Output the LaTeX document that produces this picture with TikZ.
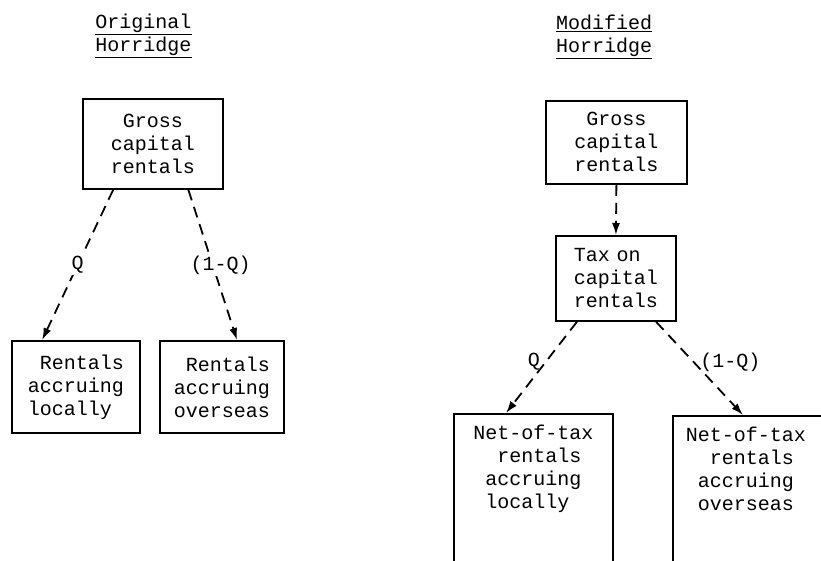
\documentclass[tikz,border=0pt]{standalone}
\usepackage{fontspec}
\setmonofont{Liberation Mono}
\usepackage{tikz}
\usetikzlibrary{arrows.meta, positioning, calc}

\newcommand{\tpad}{\hphantom{x}}

\begin{document}
\begin{tikzpicture}[
  x=1pt, y=-1pt,
  txt/.style={font=\ttfamily\fontsize{20}{23}\selectfont},
  box/.style={txt, draw, line width=1.8pt, anchor=north west, align=left},
  openbox/.style={box, text height=14pt, text depth=200pt, inner ysep=12pt},
  title/.style={txt, align=left},
  flow/.style={-{Latex[length=12pt,width=8pt]}, line width=1.8pt,
               dash pattern=on 11pt off 7pt},
  lab/.style={txt, inner sep=2pt}
]
  \useasboundingbox (0,0) rectangle (821,561);

  %--- Left: Original Horridge ---
  \node[title] (ltitle) at (143.5,36) {\underline{Original}\\\underline{Horridge}};

  \node[box, text width=84pt, inner xsep=28pt, minimum height=90pt, align=center]
    (lgross) at (82,98) {Gross\\capital\\rentals};

  \node[box, text width=96pt, inner xsep=16pt, minimum height=92pt]
    (llocal) at (11,340) {\tpad Rentals\\accruing\\locally};
  \node[box, text width=96pt, inner xsep=14pt, minimum height=92pt]
    (lover) at (159,340) {\tpad Rentals\\accruing\\overseas};

  \draw[flow] ($(lgross.south west)!0.22!(lgross.south east)$)
    -- node[lab, fill=white] {Q}
    ($(llocal.north west)!0.24!(llocal.north east)$);
  \draw[flow] ($(lgross.south west)!0.75!(lgross.south east)$)
    -- node[lab, fill=white, xshift=8pt] {(1-Q)}
    ($(lover.north west)!0.62!(lover.north east)$);

  %--- Right: Modified Horridge ---
  \node[title] (rtitle) at (604,37) {\underline{Modified}\\\underline{Horridge}};

  \node[box, text width=84pt, inner xsep=28.5pt, minimum height=83pt, align=center]
    (rgross) at (545,100) {Gross\\capital\\rentals};
  \node[box, text width=84pt, inner xsep=18pt, minimum height=85pt]
    (rtax) at (555,235) {Tax on\\capital\\rentals};
  \draw[flow] (rgross.south) -- (rtax.north);

  \node[openbox, text width=120pt, inner xsep=19.5pt]
    (rlocal) at (453,413) {Net-of-tax\\\tpad\tpad rentals\\\tpad accruing\\\tpad locally};
  \node[openbox, text width=130pt, inner xsep=13pt]
    (rover) at (672,415) {Net-of-tax\\\tpad\tpad rentals\\\tpad accruing\\\tpad overseas};

  \draw[flow] ($(rtax.south west)!0.18!(rtax.south east)$)
    -- node[lab, pos=0.44, left=3pt] {Q}
    ($(rlocal.north west)!0.33!(rlocal.north east)$);
  \draw[flow] ($(rtax.south west)!0.83!(rtax.south east)$)
    -- node[lab, pos=0.43, right=4pt] {(1-Q)}
    ($(rover.north west)!0.45!(rover.north east)$);

\end{tikzpicture}
\end{document}
